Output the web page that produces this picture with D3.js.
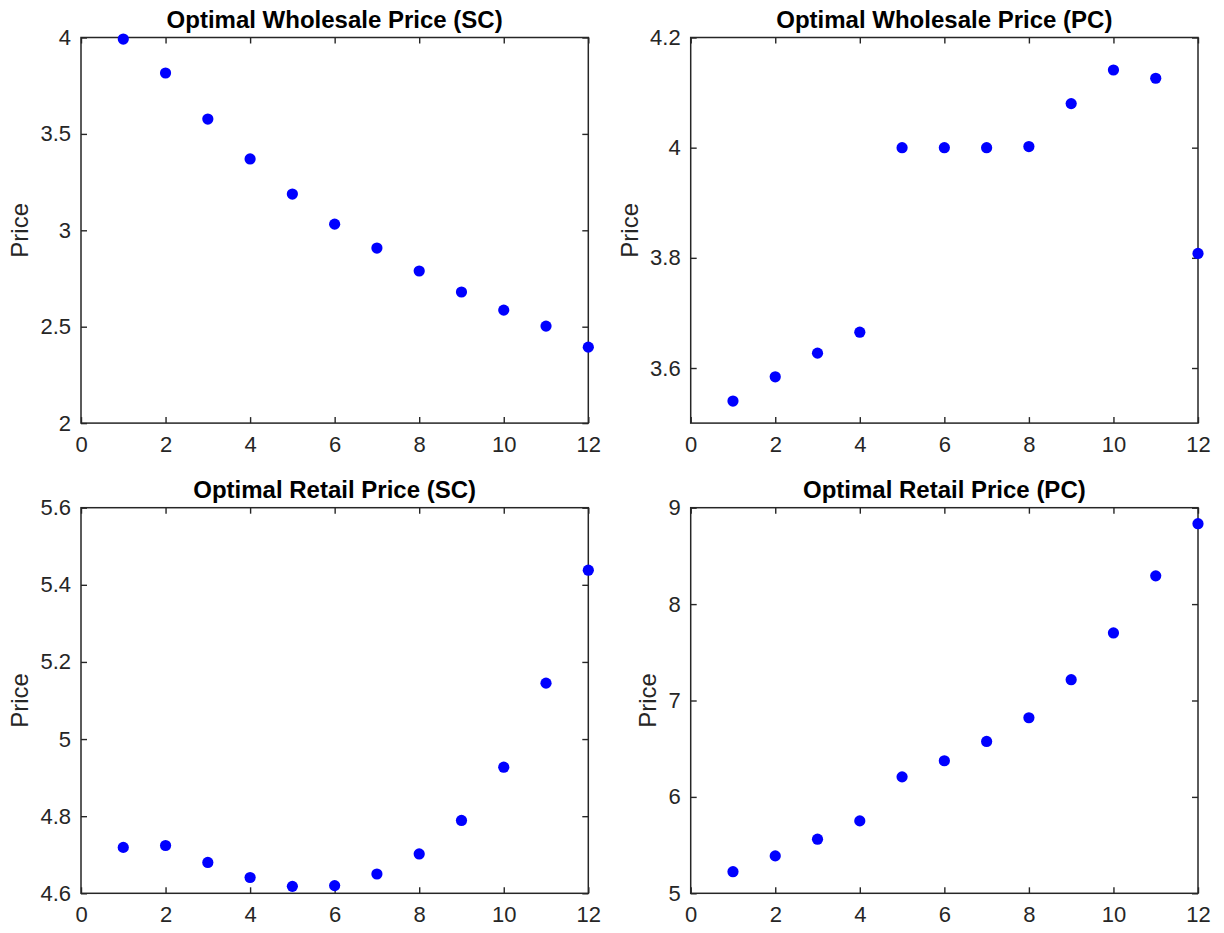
<!DOCTYPE html>
<html>
<head>
<meta charset="utf-8">
<script src="https://cdn.jsdelivr.net/npm/d3@7"></script>
<style>
  body { margin: 0; background: #fff; }
  svg { display: block; }
  text { font-family: "Liberation Sans", Arial, sans-serif; }
</style>
</head>
<body>
<svg id="chart" width="1224" height="933"></svg>
<script>
// --- Data ---
const periods = [1, 2, 3, 4, 5, 6, 7, 8, 9, 10, 11, 12];
const wholesaleSC = [3.992, 3.816, 3.577, 3.370, 3.188, 3.032, 2.908, 2.789, 2.680, 2.586, 2.503, 2.394];
const wholesalePC = [3.540, 3.584, 3.627, 3.665, 4.000, 4.000, 4.000, 4.002, 4.080, 4.141, 4.126, 3.808];
const retailSC = [4.719, 4.724, 4.680, 4.641, 4.618, 4.620, 4.650, 4.702, 4.789, 4.927, 5.145, 5.438];
const retailPC = [5.224, 5.388, 5.561, 5.751, 6.208, 6.375, 6.575, 6.821, 7.216, 7.701, 8.293, 8.834];

const xTicks = [0, 2, 4, 6, 8, 10, 12];
const yTicksWSC = [2, 2.5, 3, 3.5, 4];
const yTicksWPC = [3.6, 3.8, 4, 4.2];
const yTicksRSC = [4.6, 4.8, 5, 5.2, 5.4, 5.6];
const yTicksRPC = [5, 6, 7, 8, 9];

const titles = [
  "Optimal Wholesale Price (SC)",
  "Optimal Wholesale Price (PC)",
  "Optimal Retail Price (SC)",
  "Optimal Retail Price (PC)"
];

// --- Layout ---
const svg = d3.select("#chart");
const axisColor = "#262626";
const cols = [81, 690.7];
const rows = [37.5, 507.7];
const plotW = 507.3;
const plotH = 385.6;

const panels = [
  { values: wholesaleSC, yDomain: [2, 4], yTicks: yTicksWSC, title: titles[0], col: 0, row: 0 },
  { values: wholesalePC, yDomain: [3.5, 4.2], yTicks: yTicksWPC, title: titles[1], col: 1, row: 0 },
  { values: retailSC, yDomain: [4.6, 5.6], yTicks: yTicksRSC, title: titles[2], col: 0, row: 1 },
  { values: retailPC, yDomain: [5, 9], yTicks: yTicksRPC, title: titles[3], col: 1, row: 1 }
];

const fmt = d => String(+d.toFixed(2));

function styleAxis(g, showLabels) {
  g.select(".domain").remove();
  g.selectAll(".tick line").attr("stroke", axisColor).attr("stroke-width", 1.4);
  if (showLabels) {
    g.selectAll(".tick text")
      .attr("fill", axisColor)
      .style("font-size", "22px");
  } else {
    g.selectAll(".tick text").remove();
  }
}

function buildPanel(p) {
  const left = cols[p.col];
  const top = rows[p.row];
  const g = svg.append("g").attr("transform", `translate(${left},${top})`);

  const x = d3.scaleLinear().domain([0, 12]).range([0, plotW]);
  const y = d3.scaleLinear().domain(p.yDomain).range([plotH, 0]);

  // bottom + top
  g.append("g")
    .attr("transform", `translate(0,${plotH})`)
    .call(d3.axisBottom(x).tickValues(xTicks).tickFormat(fmt).tickSizeInner(-6).tickSizeOuter(0).tickPadding(13))
    .call(a => styleAxis(a, true))
    .selectAll(".tick text").attr("dy", "0.71em");
  g.append("g")
    .call(d3.axisTop(x).tickValues(xTicks).tickSizeInner(-6).tickSizeOuter(0))
    .call(a => styleAxis(a, false));

  // left + right
  const yAxis = g.append("g")
    .call(d3.axisLeft(y).tickValues(p.yTicks).tickFormat(fmt).tickSizeInner(-6).tickSizeOuter(0).tickPadding(10))
    .call(a => styleAxis(a, true));
  g.append("g")
    .attr("transform", `translate(${plotW},0)`)
    .call(d3.axisRight(y).tickValues(p.yTicks).tickSizeInner(-6).tickSizeOuter(0))
    .call(a => styleAxis(a, false));

  // box
  g.append("rect")
    .attr("width", plotW)
    .attr("height", plotH)
    .attr("fill", "none")
    .attr("stroke", axisColor)
    .attr("stroke-width", 1.5);

  // points
  g.selectAll("circle")
    .data(periods.map((t, i) => ({ t, v: p.values[i] })))
    .join("circle")
    .attr("cx", d => x(d.t))
    .attr("cy", d => y(d.v))
    .attr("r", 5.6)
    .attr("fill", "#0000ff");

  // title
  g.append("text")
    .attr("x", plotW / 2)
    .attr("y", -10)
    .attr("text-anchor", "middle")
    .attr("fill", "#000")
    .style("font-size", "24px")
    .style("font-weight", "bold")
    .text(p.title);

  // y label, placed left of the widest tick label
  let maxW = 0;
  yAxis.selectAll(".tick text").each(function () {
    maxW = Math.max(maxW, this.getComputedTextLength());
  });
  const lx = -10 - maxW - 12;
  g.append("text")
    .attr("transform", `translate(${lx},${plotH / 2}) rotate(-90)`)
    .attr("text-anchor", "middle")
    .attr("fill", axisColor)
    .style("font-size", "24px")
    .text("Price");
}

panels.forEach(buildPanel);
</script>
</body>
</html>
